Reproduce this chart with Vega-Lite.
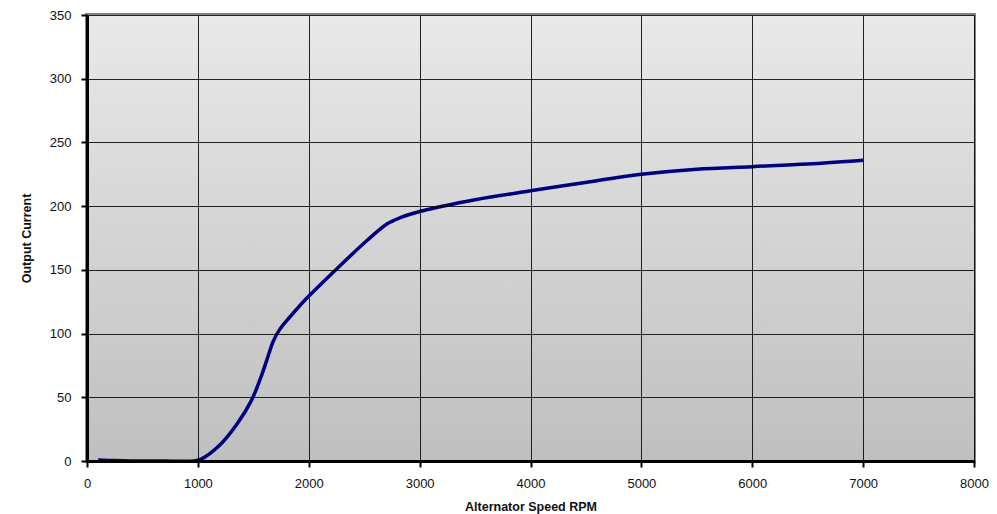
{
  "$schema": "https://vega.github.io/schema/vega-lite/v6.json",
  "width": 887,
  "height": 446,
  "autosize": {"type": "none"},
  "padding": {"left": 87, "top": 15, "right": 23, "bottom": 53},
  "background": "white",
  "config": {
    "view": {"stroke": "#808080", "strokeWidth": 4},
    "font": "Liberation Sans",
    "axis": {
      "labelFont": "Liberation Sans",
      "labelFontSize": 13,
      "labelColor": "#111111",
      "labelFlush": false,
      "titleFont": "Liberation Sans",
      "titleFontSize": 12.5,
      "titleFontWeight": "bold",
      "titleColor": "#111111",
      "domainColor": "black",
      "domainWidth": 3,
      "tickColor": "black",
      "tickWidth": 2,
      "tickSize": 6,
      "gridColor": "black",
      "gridWidth": 1,
      "gridOpacity": 0.85
    }
  },
  "data": {
    "values": [
      {"rpm": 100, "current": 0.8},
      {"rpm": 250, "current": 0.3},
      {"rpm": 400, "current": 0},
      {"rpm": 700, "current": 0},
      {"rpm": 960, "current": 0},
      {"rpm": 1024, "current": 1.3},
      {"rpm": 1203, "current": 13},
      {"rpm": 1353, "current": 29},
      {"rpm": 1480, "current": 47},
      {"rpm": 1561, "current": 64},
      {"rpm": 1621, "current": 79},
      {"rpm": 1680, "current": 94},
      {"rpm": 1740, "current": 103.5},
      {"rpm": 1830, "current": 113},
      {"rpm": 1979, "current": 127.5},
      {"rpm": 2225, "current": 148.5},
      {"rpm": 2525, "current": 173},
      {"rpm": 2705, "current": 186},
      {"rpm": 2825, "current": 191},
      {"rpm": 3000, "current": 195.8},
      {"rpm": 3185, "current": 199.5},
      {"rpm": 3500, "current": 205},
      {"rpm": 4000, "current": 212},
      {"rpm": 4600, "current": 220},
      {"rpm": 5000, "current": 225},
      {"rpm": 5500, "current": 229},
      {"rpm": 6000, "current": 231},
      {"rpm": 6500, "current": 233},
      {"rpm": 7000, "current": 236}
    ]
  },
  "layer": [
    {
      "mark": {
        "type": "rect",
        "color": {
          "gradient": "linear",
          "x1": 0, "y1": 0, "x2": 0, "y2": 1,
          "stops": [
            {"offset": 0, "color": "#e9e9e9"},
            {"offset": 1, "color": "#bfbfbf"}
          ]
        }
      },
      "encoding": {
        "x": {"datum": 0, "type": "quantitative", "scale": {"domain": [0, 8000]}},
        "x2": {"datum": 8000},
        "y": {"datum": 0, "type": "quantitative", "scale": {"domain": [0, 350]}},
        "y2": {"datum": 350}
      }
    },
    {
      "mark": {"type": "line", "interpolate": "catmull-rom", "color": "#000080", "strokeWidth": 3.5, "clip": true},
      "encoding": {
        "x": {
          "field": "rpm",
          "type": "quantitative",
          "scale": {"domain": [0, 8000], "nice": false},
          "axis": {
            "title": "Alternator Speed RPM",
            "values": [0, 1000, 2000, 3000, 4000, 5000, 6000, 7000, 8000],
            "format": "d",
            "labelPadding": 10,
            "titlePadding": 10,
            "grid": true,
            "zindex": 1
          }
        },
        "y": {
          "field": "current",
          "type": "quantitative",
          "scale": {"domain": [0, 350], "nice": false},
          "axis": {
            "title": "Output Current",
            "values": [0, 50, 100, 150, 200, 250, 300, 350],
            "labelPadding": 10,
            "titlePadding": 16,
            "grid": true,
            "zindex": 1
          }
        }
      }
    }
  ]
}
